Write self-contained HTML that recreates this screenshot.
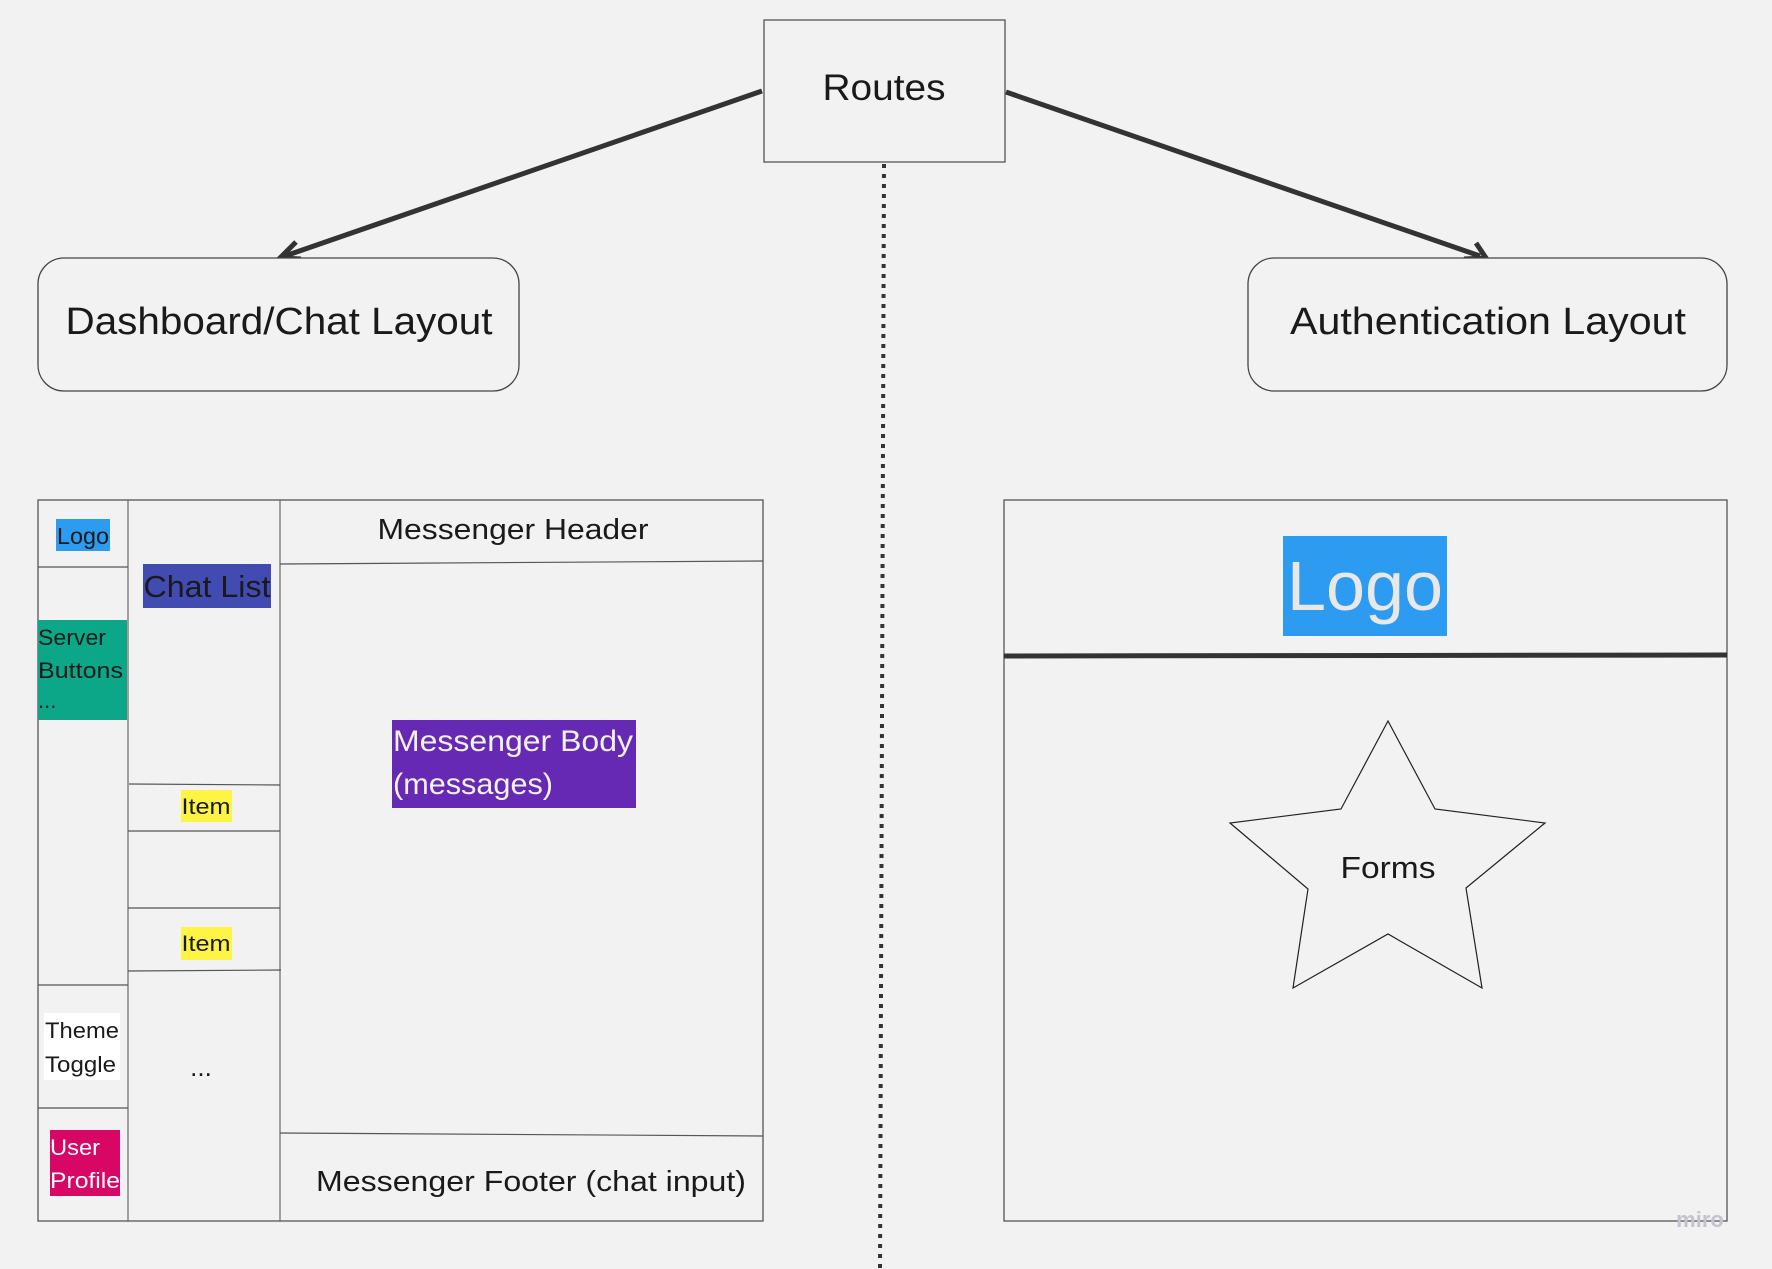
<!DOCTYPE html>
<html><head><meta charset="utf-8"><style>
html,body{margin:0;padding:0;background:#f2f2f2;}
svg{display:block;}
text{font-family:"Liberation Sans",sans-serif;fill:#1a1a1a;}
</style></head><body>
<svg width="1772" height="1269" viewBox="0 0 1772 1269" xmlns="http://www.w3.org/2000/svg">
<rect width="1772" height="1269" fill="#f2f2f2"/>
<!-- Routes -->
<rect x="764" y="20" width="241" height="142" fill="#f2f2f2" stroke="#555" stroke-width="1.3"/>
<text x="884" y="100" font-size="37" text-anchor="middle" textLength="123" lengthAdjust="spacingAndGlyphs">Routes</text>
<!-- dotted -->
<line x1="884" y1="164" x2="880" y2="1269" stroke="#333" stroke-width="4" stroke-dasharray="4,6"/>
<!-- arrows -->
<line x1="762" y1="91" x2="285" y2="256" stroke="#333" stroke-width="5"/>
<polyline points="296,242 280,258 301,259" fill="none" stroke="#333" stroke-width="5"/>
<line x1="1006" y1="92" x2="1480" y2="256" stroke="#333" stroke-width="5"/>
<polyline points="1464,259 1486,258 1476,243" fill="none" stroke="#333" stroke-width="5"/>
<!-- layout boxes -->
<rect x="38" y="258" width="481" height="133" rx="26" fill="#f2f2f2" stroke="#444" stroke-width="1.3"/>
<text x="279" y="334" font-size="38" text-anchor="middle" textLength="427" lengthAdjust="spacingAndGlyphs">Dashboard/Chat Layout</text>
<rect x="1248" y="258" width="479" height="133" rx="26" fill="#f2f2f2" stroke="#444" stroke-width="1.3"/>
<text x="1488" y="334" font-size="38" text-anchor="middle" textLength="396" lengthAdjust="spacingAndGlyphs">Authentication Layout</text>

<!-- Left panel -->
<rect x="38" y="500" width="725" height="721" fill="none" stroke="#555" stroke-width="1.3"/>
<line x1="128" y1="500" x2="128" y2="1221" stroke="#666" stroke-width="1.2"/>
<line x1="280" y1="500" x2="280" y2="1221" stroke="#666" stroke-width="1.2"/>
<line x1="38" y1="567" x2="128" y2="567" stroke="#555" stroke-width="1.2"/>
<line x1="280" y1="564" x2="763" y2="561" stroke="#555" stroke-width="1.2"/>
<line x1="38" y1="985" x2="128" y2="985" stroke="#555" stroke-width="1.2"/>
<line x1="38" y1="1108" x2="128" y2="1108" stroke="#555" stroke-width="1.2"/>
<line x1="129" y1="784" x2="280" y2="785" stroke="#555" stroke-width="1.2"/>
<line x1="128" y1="831" x2="280" y2="831" stroke="#555" stroke-width="1.2"/>
<line x1="128" y1="908" x2="280" y2="908" stroke="#555" stroke-width="1.2"/>
<line x1="128" y1="971" x2="281" y2="970" stroke="#555" stroke-width="1.2"/>
<line x1="280" y1="1133" x2="763" y2="1136" stroke="#555" stroke-width="1.2"/>

<rect x="56" y="519" width="54" height="32" fill="#2d9bf0"/>
<text x="83" y="544" font-size="23" text-anchor="middle" textLength="52" lengthAdjust="spacingAndGlyphs">Logo</text>
<rect x="38" y="620" width="89" height="100" fill="#0ca789"/>
<text x="38" y="645" font-size="22" fill="#1a1a1a" textLength="68" lengthAdjust="spacingAndGlyphs">Server</text>
<text x="38" y="678" font-size="22" textLength="85" lengthAdjust="spacingAndGlyphs">Buttons</text>
<text x="38" y="708" font-size="22">...</text>
<rect x="44" y="1013" width="76" height="67" fill="#ffffff"/>
<text x="45" y="1038" font-size="22" textLength="74" lengthAdjust="spacingAndGlyphs">Theme</text>
<text x="45" y="1072" font-size="22" textLength="71" lengthAdjust="spacingAndGlyphs">Toggle</text>
<rect x="50" y="1130" width="70" height="66" fill="#d80766"/>
<text x="50" y="1155" font-size="22" fill="#fff" style="fill:#fff" textLength="50" lengthAdjust="spacingAndGlyphs">User</text>
<text x="50" y="1188" font-size="22" style="fill:#fff" textLength="70" lengthAdjust="spacingAndGlyphs">Profile</text>

<rect x="143" y="564" width="128" height="44" fill="#414bb2"/>
<text x="207" y="597" font-size="31" text-anchor="middle" textLength="127" lengthAdjust="spacingAndGlyphs">Chat List</text>
<rect x="181" y="790" width="51" height="32" fill="#fef445"/>
<text x="206" y="814" font-size="22" text-anchor="middle" textLength="49" lengthAdjust="spacingAndGlyphs">Item</text>
<rect x="181" y="927" width="51" height="33" fill="#fef445"/>
<text x="206" y="951" font-size="22" text-anchor="middle" textLength="49" lengthAdjust="spacingAndGlyphs">Item</text>
<text x="201" y="1076" font-size="26" text-anchor="middle">...</text>

<text x="513" y="539" font-size="29" text-anchor="middle" textLength="271" lengthAdjust="spacingAndGlyphs">Messenger Header</text>
<rect x="392" y="720" width="244" height="88" fill="#6629b4"/>
<text x="393" y="751" font-size="30" style="fill:#f2f2f2" textLength="240" lengthAdjust="spacingAndGlyphs">Messenger Body</text>
<text x="393" y="794" font-size="30" style="fill:#f2f2f2" textLength="160" lengthAdjust="spacingAndGlyphs">(messages)</text>
<text x="531" y="1191" font-size="29" text-anchor="middle" textLength="430" lengthAdjust="spacingAndGlyphs">Messenger Footer (chat input)</text>

<!-- Right panel -->
<rect x="1004" y="500" width="723" height="721" fill="none" stroke="#555" stroke-width="1.3"/>
<line x1="1004" y1="656" x2="1727" y2="655" stroke="#333" stroke-width="5"/>
<rect x="1283" y="536" width="164" height="100" fill="#2d9bf0"/>
<text x="1365" y="610" font-size="70" text-anchor="middle" style="fill:#e8e8e8" textLength="156" lengthAdjust="spacingAndGlyphs">Logo</text>
<polygon points="1388,721 1435,809 1545,823 1466,888 1482,988 1388,934 1293,988 1308,889 1230,823 1341,809" fill="#f2f2f2" stroke="#222" stroke-width="1.2"/>
<text x="1388" y="878" font-size="31" text-anchor="middle" textLength="95" lengthAdjust="spacingAndGlyphs">Forms</text>
<text x="1700" y="1227" font-size="22" text-anchor="middle" style="fill:#c4c4d0" font-weight="bold">miro</text>
</svg>
</body></html>
